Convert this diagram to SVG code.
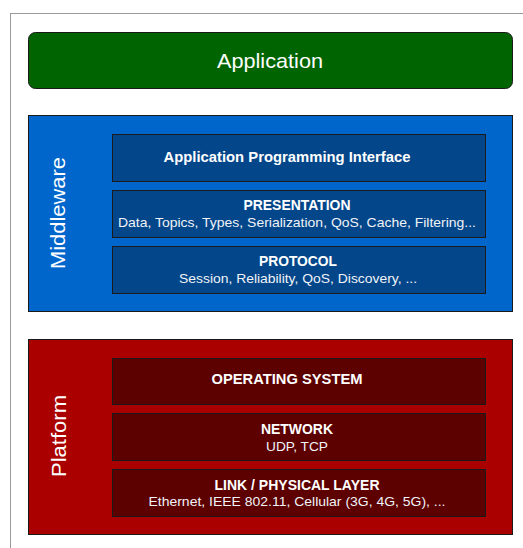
<svg xmlns="http://www.w3.org/2000/svg" width="523" height="548" viewBox="0 0 523 548">
  <style>
    text { font-family: "Liberation Sans", Arial, Helvetica, sans-serif; fill: #ffffff; text-anchor: middle; }
    .frame { fill: #ffffff; stroke: #9a9a9a; stroke-width: 1; }
    .layer { stroke: #1a1a1a; stroke-width: 1; }
    .mw { fill: #0066cc; }
    .mw-in { fill: #03468a; }
    .pf { fill: #aa0000; }
    .pf-in { fill: #5c0000; }
    .title { font-weight: bold; font-size: 14.5px; }
    .sub { font-size: 13.5px; fill: #f0f3f7; }
    .side { font-size: 21px; }
  </style>
  <rect width="523" height="548" fill="#ffffff"/>
  <rect class="frame" x="10.5" y="13.5" width="530" height="560"/>

  <g id="application">
    <rect x="28.5" y="32.5" width="484" height="56" rx="7" fill="#006400" stroke="#1a1a1a"/>
    <text x="270" y="68" font-size="21" textLength="106" lengthAdjust="spacingAndGlyphs">Application</text>
  </g>

  <g id="middleware">
    <rect class="layer mw" x="28.5" y="115.5" width="484" height="196"/>
    <text class="side" transform="translate(65 213) rotate(-90)" textLength="112" lengthAdjust="spacingAndGlyphs">Middleware</text>
  </g>
  <g id="api">
    <rect class="layer mw-in" x="112.5" y="134.5" width="373" height="47"/>
    <text class="title" x="287" y="162" textLength="247" lengthAdjust="spacingAndGlyphs">Application Programming Interface</text>
  </g>
  <g id="presentation">
    <rect class="layer mw-in" x="112.5" y="190.5" width="373" height="47"/>
    <text class="title" x="297" y="210" textLength="107" lengthAdjust="spacingAndGlyphs">PRESENTATION</text>
    <text class="sub" x="297" y="227" textLength="358" lengthAdjust="spacingAndGlyphs">Data, Topics, Types, Serialization, QoS, Cache, Filtering...</text>
  </g>
  <g id="protocol">
    <rect class="layer mw-in" x="112.5" y="246.5" width="373" height="47"/>
    <text class="title" x="298" y="266" textLength="78" lengthAdjust="spacingAndGlyphs">PROTOCOL</text>
    <text class="sub" x="298" y="283" textLength="238" lengthAdjust="spacingAndGlyphs">Session, Reliability, QoS, Discovery, ...</text>
  </g>

  <g id="platform">
    <rect class="layer pf" x="28.5" y="339.5" width="484" height="195"/>
    <text class="side" transform="translate(66 436) rotate(-90)" textLength="82" lengthAdjust="spacingAndGlyphs">Platform</text>
  </g>
  <g id="os">
    <rect class="layer pf-in" x="112.5" y="358.5" width="373" height="46"/>
    <text class="title" x="287" y="384" textLength="151" lengthAdjust="spacingAndGlyphs">OPERATING SYSTEM</text>
  </g>
  <g id="network">
    <rect class="layer pf-in" x="112.5" y="413.5" width="373" height="47"/>
    <text class="title" x="297" y="434" textLength="72" lengthAdjust="spacingAndGlyphs">NETWORK</text>
    <text class="sub" x="297" y="451" textLength="62" lengthAdjust="spacingAndGlyphs">UDP, TCP</text>
  </g>
  <g id="link">
    <rect class="layer pf-in" x="112.5" y="469.5" width="373" height="47"/>
    <text class="title" x="297" y="490" textLength="165" lengthAdjust="spacingAndGlyphs">LINK / PHYSICAL LAYER</text>
    <text class="sub" x="297" y="506" textLength="297" lengthAdjust="spacingAndGlyphs">Ethernet, IEEE 802.11, Cellular (3G, 4G, 5G), ...</text>
  </g>

  <g id="connectors"></g>
</svg>
